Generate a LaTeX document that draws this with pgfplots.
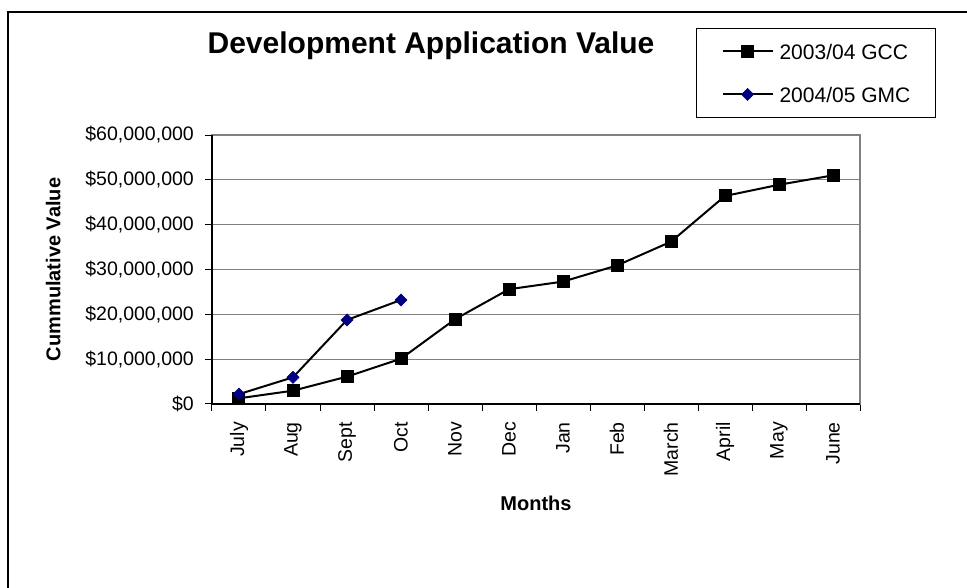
\documentclass[border=0pt]{standalone}
\usepackage{pgfplots}
\pgfplotsset{compat=1.18}
\usepackage{fontspec}
\setmainfont{Liberation Sans}
\definecolor{navyblue}{RGB}{0,0,128}
\definecolor{gridgray}{RGB}{128,128,128}

\begin{document}
\begin{tikzpicture}
\useasboundingbox (0pt,0pt) rectangle (967pt,588pt);
\fill[white] (0pt,0pt) rectangle (967pt,588pt);
% outer chart frame (right and bottom edges are cut off in the reference)
\draw[black, line width=1.3pt] (8pt,-2pt) -- (8pt,576pt) -- (969pt,576pt);

\begin{axis}[
  at={(212pt,184pt)}, anchor=south west,
  scale only axis, width=648pt, height=269pt,
  xmin=-0.5, xmax=11.5, ymin=0, ymax=60000000,
  scaled y ticks=false,
  xtick={0,...,11},
  xticklabels={July,Aug,Sept,Oct,Nov,Dec,Jan,Feb,March,April,May,June},
  minor xtick={-0.5,0.5,...,11.5},
  ytick={0,10000000,20000000,30000000,40000000,50000000,60000000},
  yticklabels={{\$0},{\$10,000,000},{\$20,000,000},{\$30,000,000},{\$40,000,000},{\$50,000,000},{\$60,000,000}},
  tick pos=left,
  tick align=outside,
  x tick style={draw=none},
  minor x tick style={draw=black, line width=1pt},
  minor tick length=7pt,
  y tick style={draw=black, line width=1pt},
  major tick length=7pt,
  ymajorgrids, grid style={draw=gridgray, line width=1pt},
  axis line style={draw=gridgray, line width=1.5pt},
  tick label style={font=\fontsize{19.5}{23}\selectfont},
  xticklabel style={rotate=90, anchor=east, inner sep=0pt, xshift=-11pt},
  yticklabel style={anchor=east, inner sep=0pt, xshift=-11pt},
  title={\textbf{Development Application Value}},
  title style={font=\fontsize{30}{34}\selectfont, at={(axis description cs:0.338,1.279)}, anchor=base},
  xlabel={\textbf{Months}},
  xlabel style={font=\fontsize{20}{24}\selectfont, at={(axis description cs:0.5,-0.368)}, anchor=center},
  ylabel={\textbf{Cummulative Value}},
  ylabel style={font=\fontsize{20}{24}\selectfont, at={(axis description cs:-0.245,0.5)}, anchor=center},
  legend image code/.code={
    \draw[mark repeat=2, mark phase=2, #1] plot coordinates {(0pt,0pt) (25pt,0pt) (50pt,0pt)};
  },
  legend style={
    at={(axis description cs:0.747,1.398)}, anchor=north west,
    font=\fontsize{21}{25}\selectfont,
    draw=black, line width=1pt, fill=white,
    inner xsep=25pt, inner ysep=10pt, row sep=17pt, column sep=6pt,
    nodes={inner sep=0pt, text height=21.5pt, text depth=4.5pt},
  },
  legend cell align=left,
  clip=false,
]
\addplot[black, line width=2pt, mark=square*, mark size=6pt,
  mark options={solid, fill=black, line width=1pt}]
  coordinates {
  (0,1270000) (1,2970000) (2,6100000) (3,10100000) (4,18900000) (5,25600000)
  (6,27300000) (7,30900000) (8,36200000) (9,46400000) (10,48900000) (11,51000000)
  };
\addlegendentry{2003/04 GCC}
\addplot[black, line width=2pt, mark=square*, mark size=4.3pt,
  mark options={solid, rotate=45, fill=navyblue, draw=navyblue, line width=0.5pt}]
  coordinates {
  (0,2200000) (1,5950000) (2,18750000) (3,23200000)
  };
\addlegendentry{2004/05 GMC}
\draw[black, line width=1.5pt] (rel axis cs:0,1) -- (rel axis cs:0,0) -- (rel axis cs:1,0);
\end{axis}
\end{tikzpicture}
\end{document}
